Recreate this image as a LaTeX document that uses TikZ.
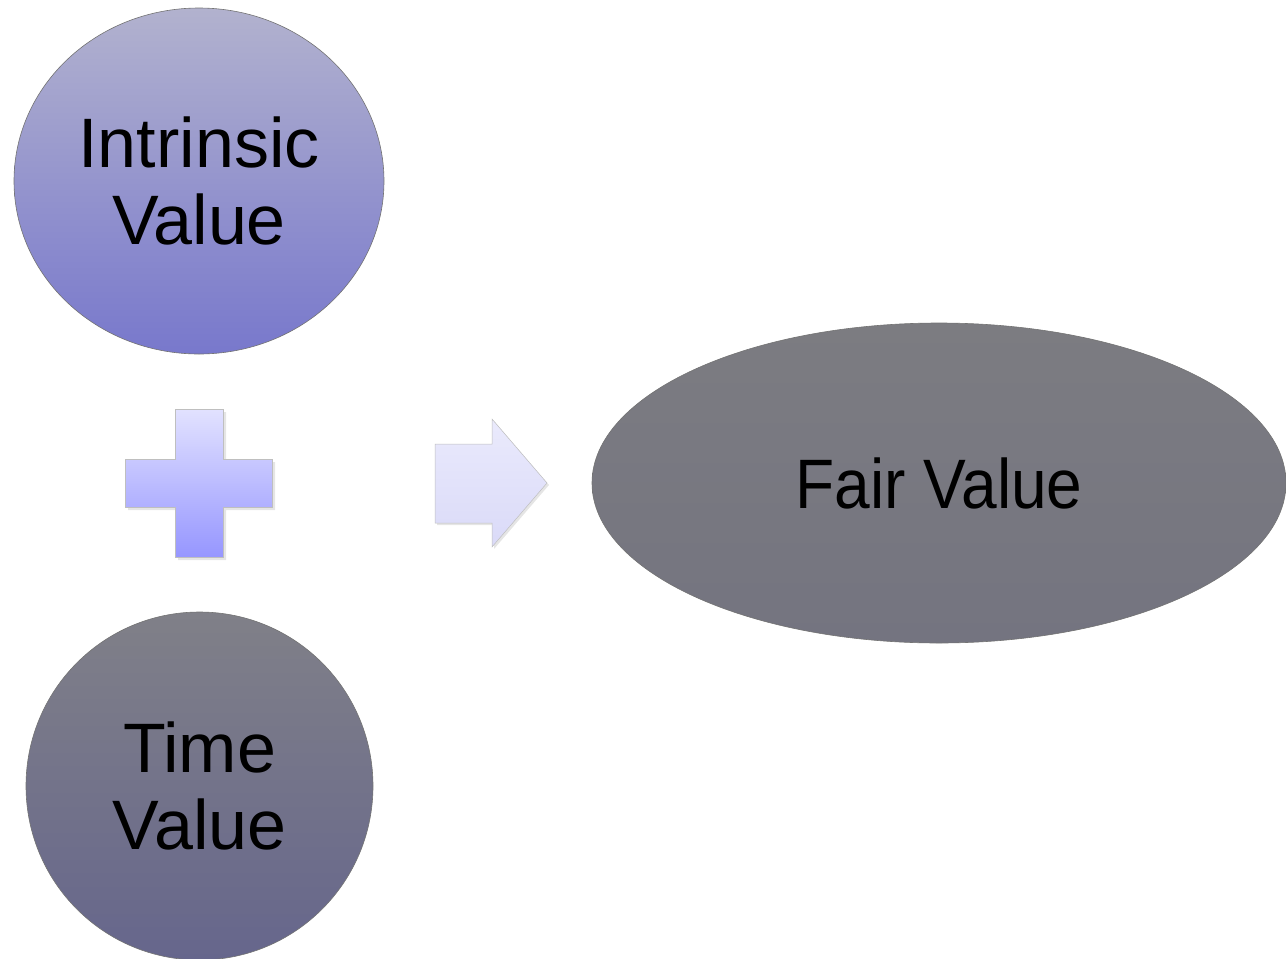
\documentclass[tikz,border=0pt]{standalone}
\usepackage{fontspec}
\setmainfont{Liberation Sans}
\usetikzlibrary{shapes.geometric}
\begin{document}
\begin{tikzpicture}[x=1pt,y=-1pt,
  bubble/.style={ellipse,draw=black!55,line width=0.6pt,inner sep=0pt,align=center,
    font=\fontsize{70}{77}\selectfont,text=black},
  blueshape/.style={draw=black!25,line width=0.5pt},
  shadowshape/.style={fill=black!20,opacity=0.5}]
\useasboundingbox (0,0) rectangle (1286,959);
% Intrinsic value
\node[bubble,minimum width=370pt,minimum height=346pt,
  top color={rgb,255:red,178;green,178;blue,206},bottom color={rgb,255:red,120;green,120;blue,204}]
  (iv) at (199,181) {Intrinsic\\Value};
% Time value
\node[bubble,minimum width=347pt,minimum height=348pt,
  top color={rgb,255:red,128;green,128;blue,136},bottom color={rgb,255:red,102;green,102;blue,140}]
  (tv) at (199.5,786) {Time\\Value};
% Fair value
\node[bubble,minimum width=694pt,minimum height=320pt,
  top color={rgb,255:red,124;green,124;blue,129},bottom color={rgb,255:red,116;green,116;blue,128}]
  (fv) at (939,483) {\scalebox{0.915}[1]{Fair Value}};
% plus shadow
\path[shadowshape] (178,412) -- (226,412) -- (226,462) -- (275,462) -- (275,510) -- (226,510)
  -- (226,560) -- (178,560) -- (178,510) -- (128,510) -- (128,462) -- (178,462) -- cycle;
% plus
\path[blueshape,top color={rgb,255:red,226;green,226;blue,255},bottom color={rgb,255:red,150;green,150;blue,255}]
  (175,409) -- (223,409) -- (223,459) -- (272,459) -- (272,507) -- (223,507)
  -- (223,557) -- (175,557) -- (175,507) -- (125,507) -- (125,459) -- (175,459) -- cycle;
% arrow shadow
\path[shadowshape] (437,446) -- (494,446) -- (494,421) -- (549,485) -- (494,549) -- (494,525) -- (437,525) -- cycle;
% arrow
\path[blueshape,top color={rgb,255:red,234;green,234;blue,252},bottom color={rgb,255:red,218;green,218;blue,248}]
  (435,444) -- (492,444) -- (492,419) -- (547,483) -- (492,547) -- (492,523) -- (435,523) -- cycle;
\end{tikzpicture}
\end{document}
